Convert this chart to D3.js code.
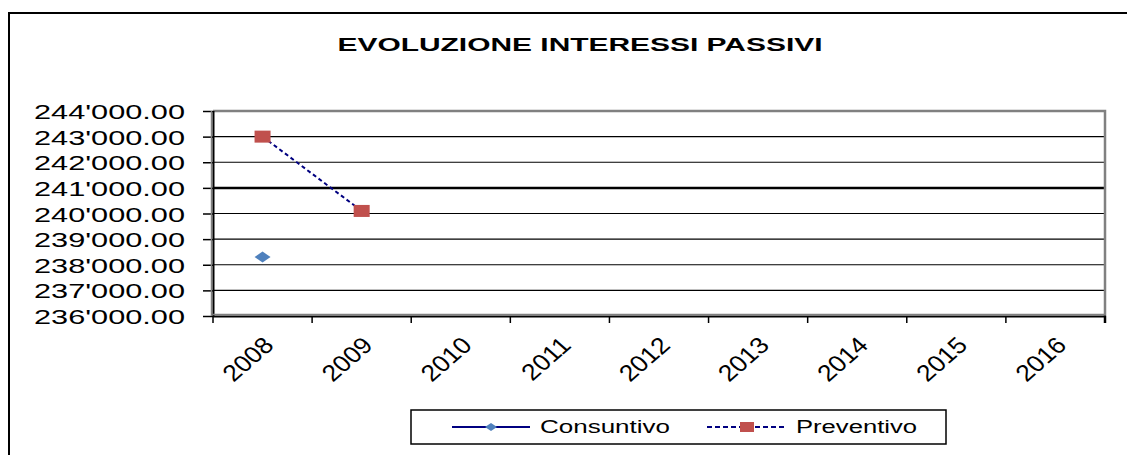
<!DOCTYPE html>
<html lang="it">
<head>
<meta charset="UTF-8" />
<title>Evoluzione interessi passivi</title>
<script src="https://d3js.org/d3.v7.min.js"></script>
<style>
  body { margin: 0; background: #fff; }
  svg text { font-family: Arial, "Liberation Sans", sans-serif; fill: #000; }
</style>
</head>
<body>
<script>
// values
var years = ["2008", "2009", "2010", "2011", "2012", "2013", "2014", "2015", "2016"];
var consuntivo = [238300, null, null, null, null, null, null, null, null];
var preventivo = [243000, 240100, null, null, null, null, null, null, null];
var yTicks = [236000, 237000, 238000, 239000, 240000, 241000, 242000, 243000, 244000];
var seriesNames = ["Consuntivo", "Preventivo"];

var w = 1127, h = 455;
var plotL = 213, plotR = 1105, plotT = 111, plotB = 316;

var svg = d3.select("body").append("svg")
    .attr("width", w)
    .attr("height", h);

// outer frame (right and bottom fall off the picture)
svg.append("rect")
    .attr("x", 9).attr("y", 13)
    .attr("width", w + 20).attr("height", h + 20)
    .attr("fill", "#fff")
    .attr("stroke", "#000")
    .attr("stroke-width", 2);

svg.append("text")
    .attr("x", 580).attr("y", 51)
    .attr("text-anchor", "middle")
    .attr("font-size", "19px")
    .attr("font-weight", "bold")
    .attr("textLength", 485)
    .attr("lengthAdjust", "spacingAndGlyphs")
    .text("EVOLUZIONE INTERESSI PASSIVI");

var xScale = d3.scaleBand().domain(years).range([plotL, plotR]);
var yScale = d3.scaleLinear().domain([236000, 244000]).range([plotB, plotT]);

var fmt = function (d) { return d3.format(",.2f")(d).replace(/,/g, "'"); };

// gridlines
svg.append("g")
    .selectAll("line")
    .data(yTicks.slice(1, -1))
    .enter()
    .append("line")
    .attr("x1", plotL).attr("x2", plotR)
    .attr("y1", function (d) { return yScale(d); })
    .attr("y2", function (d) { return yScale(d); })
    .attr("stroke", "#000")
    .attr("stroke-width", function (d) { return d === 241000 ? 2.5 : 1.2; });

// plot frame top + right in grey
svg.append("path")
    .attr("d", "M" + plotL + "," + plotT + "H" + plotR + "V" + plotB)
    .attr("fill", "none")
    .attr("stroke", "#808080")
    .attr("stroke-width", 2.5);

// y axis
var yAxis = d3.axisLeft(yScale).tickValues(yTicks).tickSize(10).tickPadding(18).tickFormat(fmt);
var gy = svg.append("g").attr("class", "y axis")
    .attr("transform", "translate(" + plotL + ",0)")
    .call(yAxis);
gy.select(".domain").remove();
gy.selectAll(".tick line").attr("stroke", "#000").attr("stroke-width", 1.5);
gy.selectAll(".tick text")
    .attr("font-size", "21px")
    .attr("textLength", 151)
    .attr("lengthAdjust", "spacingAndGlyphs")
    .attr("dy", "0.36em")
    .attr("fill", "#000");

svg.append("line")
    .attr("x1", plotL - 1.5).attr("x2", plotL - 1.5)
    .attr("y1", plotT).attr("y2", plotB)
    .attr("stroke", "#808080").attr("stroke-width", 1.5);
svg.append("line")
    .attr("x1", plotL + 0.5).attr("x2", plotL + 0.5)
    .attr("y1", plotT).attr("y2", plotB + 1)
    .attr("stroke", "#000").attr("stroke-width", 2);

// x axis: ticks on the band edges
var edges = years.map(function (d) { return xScale(d); }).concat([plotR]);
svg.append("g")
    .selectAll("line")
    .data(edges)
    .enter()
    .append("line")
    .attr("x1", function (d) { return d; }).attr("x2", function (d) { return d; })
    .attr("y1", plotB).attr("y2", plotB + 7)
    .attr("stroke", "#000")
    .attr("stroke-width", function (d, i) { return i === edges.length - 1 ? 2.5 : 1.5; });

svg.append("line")
    .attr("x1", plotL).attr("x2", plotR + 1)
    .attr("y1", plotB + 0.5).attr("y2", plotB + 0.5)
    .attr("stroke", "#000").attr("stroke-width", 2);
svg.append("line")
    .attr("x1", plotL).attr("x2", plotR + 1)
    .attr("y1", plotB - 1.5).attr("y2", plotB - 1.5)
    .attr("stroke", "#808080").attr("stroke-width", 1.5);

svg.append("g")
    .selectAll("text")
    .data(years)
    .enter()
    .append("text")
    .attr("transform", function (d) {
        return "translate(" + (xScale(d) + xScale.bandwidth() / 2 + 6) + "," + (plotB + 25) + ") scale(1.15,1) rotate(-45)";
    })
    .attr("text-anchor", "end")
    .attr("font-size", "23px")
    .attr("dy", "0.35em")
    .text(function (d) { return d; });

var cx = function (i) { return xScale(years[i]) + xScale.bandwidth() / 2; };

// Preventivo
var prevLine = d3.line()
    .defined(function (d) { return d !== null; })
    .x(function (d, i) { return cx(i); })
    .y(function (d) { return yScale(d); });

svg.append("path")
    .datum(preventivo)
    .attr("d", prevLine)
    .attr("fill", "none")
    .attr("stroke", "#000080")
    .attr("stroke-width", 2)
    .attr("stroke-dasharray", "4,3");

svg.append("g")
    .selectAll("rect")
    .data(preventivo.map(function (v, i) { return { v: v, i: i }; }).filter(function (d) { return d.v !== null; }))
    .enter()
    .append("rect")
    .attr("x", function (d) { return cx(d.i) - 8; })
    .attr("y", function (d) { return yScale(d.v) - 6; })
    .attr("width", 16).attr("height", 12)
    .attr("fill", "#C0504D");

// Consuntivo
svg.append("g")
    .selectAll("path")
    .data(consuntivo.map(function (v, i) { return { v: v, i: i }; }).filter(function (d) { return d.v !== null; }))
    .enter()
    .append("path")
    .attr("transform", function (d) { return "translate(" + cx(d.i) + "," + yScale(d.v) + ")"; })
    .attr("d", "M-8,0L0,-5.5L8,0L0,5.5Z")
    .attr("fill", "#4F81BD");

// legend
svg.append("rect")
    .attr("x", 411).attr("y", 410)
    .attr("width", 535).attr("height", 34)
    .attr("fill", "#fff")
    .attr("stroke", "#000")
    .attr("stroke-width", 1.5);

var legY = 427;
svg.append("line")
    .attr("x1", 452).attr("x2", 530).attr("y1", legY).attr("y2", legY)
    .attr("stroke", "#000080").attr("stroke-width", 2);
svg.append("path")
    .attr("transform", "translate(491," + legY + ")")
    .attr("d", "M-6,0L0,-4L6,0L0,4Z")
    .attr("fill", "#4F81BD");
svg.append("text")
    .attr("x", 540).attr("y", legY).attr("dy", "0.36em")
    .attr("font-size", "18px")
    .attr("textLength", 130)
    .attr("lengthAdjust", "spacingAndGlyphs")
    .text(seriesNames[0]);

svg.append("line")
    .attr("x1", 707).attr("x2", 787).attr("y1", legY).attr("y2", legY)
    .attr("stroke", "#000080").attr("stroke-width", 2)
    .attr("stroke-dasharray", "5,3");
svg.append("rect")
    .attr("x", 740).attr("y", legY - 5)
    .attr("width", 14).attr("height", 10)
    .attr("fill", "#C0504D");
svg.append("text")
    .attr("x", 796).attr("y", legY).attr("dy", "0.36em")
    .attr("font-size", "18px")
    .attr("textLength", 121)
    .attr("lengthAdjust", "spacingAndGlyphs")
    .text(seriesNames[1]);
</script>
</body>
</html>
